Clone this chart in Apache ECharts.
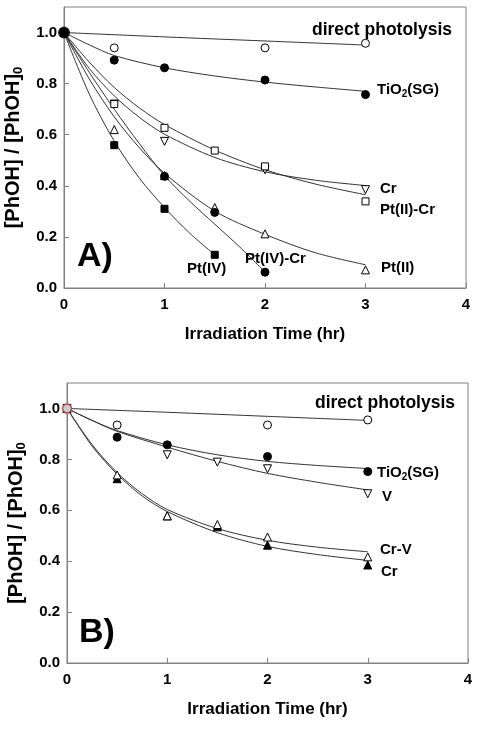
<!DOCTYPE html>
<html><head><meta charset="utf-8">
<script src="https://cdn.jsdelivr.net/npm/echarts@6/dist/echarts.min.js"></script>
<style>html,body{margin:0;padding:0;background:#fff}#c{width:482px;height:749px}</style>
</head><body><div id="c"></div>
<script>
// ---------- DATA (panel A) ----------
const directA_pts = [[0,1],[0.5,0.94],[2,0.94],[3,0.958]];
const directA_fit = [[0,1],[1,0.983],[2,0.967],[3,0.951]];
const tio2A_pts = [[0,1],[0.5,0.892],[1,0.862],[2,0.814],[3,0.757]];
const tio2A_fit = [[0,1],[0.25,0.952],[0.5,0.91],[1,0.862],[1.5,0.83],[2,0.806],[2.5,0.787],[3,0.77]];
const crA_pts = [[0,1],[0.5,0.72],[1,0.574],[2,0.463],[3,0.385]];
const crA_fit = [[0,1],[0.25,0.86],[0.5,0.752],[0.75,0.668],[1,0.602],[1.5,0.511],[2,0.455],[2.5,0.422],[3,0.401]];
const ptiicrA_pts = [[0,1],[0.5,0.72],[1,0.627],[1.5,0.538],[2,0.476],[3,0.339]];
const ptiicrA_fit = [[0,1],[0.25,0.885],[0.5,0.785],[0.75,0.705],[1,0.64],[1.5,0.54],[2,0.463],[2.5,0.407],[3,0.365]];
const ptiiA_pts = [[0,1],[0.5,0.62],[1,0.44],[1.5,0.315],[2,0.212],[3,0.071]];
const ptiiA_fit = [[0,1],[0.25,0.819],[0.5,0.67],[0.75,0.549],[1,0.449],[1.5,0.301],[2,0.21],[2.5,0.138],[3,0.091]];
const ptivcrA_pts = [[0,1],[1,0.437],[1.5,0.296],[2,0.062]];
const ptivcrA_fit = [[0,1],[0.25,0.845],[0.5,0.7],[0.75,0.565],[1,0.44],[1.25,0.34],[1.5,0.25],[1.75,0.16],[2,0.062]];
const ptivA_pts = [[0,1],[0.5,0.559],[1,0.31],[1.5,0.13]];
const ptivA_fit = [[0,1],[0.25,0.76],[0.5,0.575],[0.75,0.43],[1,0.315],[1.25,0.215],[1.5,0.13]];
const originA = [[0,1]];
// ---------- DATA (panel B) ----------
const directB_pts = [[0,1],[0.5,0.935],[2,0.935],[3,0.955]];
const directB_fit = [[0,1],[1,0.985],[2,0.969],[3,0.953]];
const tio2B_pts = [[0,1],[0.5,0.887],[1,0.857],[2,0.811],[3,0.752]];
const tio2B_fit = [[0,1],[0.25,0.953],[0.5,0.913],[1,0.857],[1.5,0.818],[2,0.792],[2.5,0.776],[3,0.764]];
const vB_pts = [[0,1],[1,0.818],[1.5,0.789],[2,0.763],[3,0.665]];
const vB_fit = [[0,1],[0.25,0.953],[0.5,0.91],[1,0.848],[1.5,0.792],[2,0.745],[2.5,0.71],[3,0.68]];
const crvB_pts = [[0,1],[0.5,0.739],[1,0.578],[1.5,0.544],[2,0.495],[3,0.417]];
const crvB_fit = [[0,1],[0.25,0.858],[0.5,0.748],[0.75,0.665],[1,0.603],[1.5,0.528],[2,0.482],[2.5,0.455],[3,0.437]];
const crB_pts = [[0,1],[0.5,0.724],[1,0.578],[1.5,0.535],[2,0.463],[3,0.385]];
const crB_fit = [[0,1],[0.25,0.852],[0.5,0.742],[0.75,0.656],[1,0.595],[1.5,0.512],[2,0.458],[2.5,0.426],[3,0.403]];
const originB = [[0,1]];
// ---------- TICKS ----------
const xTicks = [0,1,2,3,4];
const yTicks = [0,0.2,0.4,0.6,0.8,1.0];

const FF = 'Liberation Sans, Arial, sans-serif';
const chart = echarts.init(document.getElementById('c'), null, {renderer:'canvas'});

function fitSeries(data, g){
  return {type:'line', xAxisIndex:g, yAxisIndex:g, data, smooth:0.3,
    showSymbol:false, symbol:'none', silent:true, z:2,
    lineStyle:{color:'#333', width:1}};
}
function ptSeries(data, g, symbol, filled, rot){
  return {type:'scatter', xAxisIndex:g, yAxisIndex:g, data, symbol, symbolSize: symbol==='rect'?7:8,
    symbolRotate: rot||0, z:3,
    itemStyle:{color: filled?'#000':'#fff', borderColor:'#000', borderWidth:1, opacity:1}};
}
const series = [
  fitSeries(directA_fit,0), fitSeries(tio2A_fit,0), fitSeries(crA_fit,0), fitSeries(ptiicrA_fit,0),
  fitSeries(ptiiA_fit,0), fitSeries(ptivcrA_fit,0), fitSeries(ptivA_fit,0),
  ptSeries(directA_pts,0,'circle',false), ptSeries(crA_pts,0,'triangle',false,180),
  ptSeries(ptiicrA_pts,0,'rect',false), ptSeries(ptiiA_pts,0,'triangle',false),
  ptSeries(ptivA_pts,0,'rect',true), ptSeries(ptivcrA_pts,0,'circle',true), ptSeries(tio2A_pts,0,'circle',true),
  {type:'scatter', xAxisIndex:0, yAxisIndex:0, data:originA, symbol:'circle', symbolSize:11, z:4,
   itemStyle:{color:'#000', borderColor:'#000', borderWidth:1}},
  fitSeries(directB_fit,1), fitSeries(tio2B_fit,1), fitSeries(vB_fit,1), fitSeries(crvB_fit,1), fitSeries(crB_fit,1),
  ptSeries(directB_pts,1,'circle',false), ptSeries(vB_pts,1,'triangle',false,180),
  ptSeries(crB_pts,1,'triangle',true), ptSeries(crvB_pts,1,'triangle',false), ptSeries(tio2B_pts,1,'circle',true),
  {type:'scatter', xAxisIndex:1, yAxisIndex:1, data:originB, symbol:'circle', symbolSize:9, z:4,
   itemStyle:{color:'#fff', borderColor:'#b03a3a', borderWidth:1.5}}
];

function xAxis(g){
  return {gridIndex:g, type:'value', min:xTicks[0], max:xTicks[xTicks.length-1], interval:1,
    name:'Irradiation Time (hr)', nameLocation:'middle', nameGap:38,
    nameTextStyle:{fontFamily:FF, fontWeight:'bold', fontSize:17, color:'#000'},
    axisLine:{show:true, onZero:false, lineStyle:{color:'#808080', width:1}},
    axisTick:{show:true, inside:true, length:5, lineStyle:{color:'#808080'}},
    splitLine:{show:false},
    axisLabel:{fontFamily:FF, fontWeight:'bold', fontSize:15, color:'#000', margin:9}};
}
function yAxis(g){
  return {gridIndex:g, type:'value', min:0, max:1.1, interval:0.2,
    name:'[PhOH] / [PhOH]{s|0}', nameLocation:'middle', nameGap:38,
    nameTextStyle:{fontFamily:FF, fontWeight:'bold', fontSize:20, color:'#000', lineHeight:24,
      rich:{s:{fontFamily:FF, fontWeight:'bold', fontSize:13, verticalAlign:'bottom', lineHeight:13, color:'#000'}}},
    axisLine:{show:true, onZero:false, lineStyle:{color:'#808080', width:1}},
    axisTick:{show:true, inside:true, length:5, lineStyle:{color:'#808080'},
      customValues: yTicks},
    splitLine:{show:false},
    axisLabel:{fontFamily:FF, fontWeight:'bold', fontSize:15, color:'#000', margin:7,
      customValues: yTicks, formatter: v => v.toFixed(1)}};
}

function txt(x, y, text, size, extra){
  return Object.assign({type:'text', x, y, z:10, style:{text, fill:'#000', fontFamily:FF, fontWeight:'bold',
    fontSize:size, verticalAlign:'middle'}}, extra||{});
}
function tio2(x, y){
  return {type:'text', x, y, z:10, style:{text:'{n|TiO}{s|2}{n|(SG)}', fill:'#000', verticalAlign:'middle',
    rich:{n:{fontFamily:FF, fontWeight:'bold', fontSize:15, lineHeight:18, fill:'#000'},
          s:{fontFamily:FF, fontWeight:'bold', fontSize:10, lineHeight:10, verticalAlign:'bottom', fill:'#000'}}}};
}

chart.setOption({
  animation:false,
  backgroundColor:'#fff',
  grid:[
    {left:64, width:402, top:7, height:281, show:true, borderColor:'#808080', borderWidth:1, backgroundColor:'transparent',
     containLabel:false, outerBoundsMode:'none'},
    {left:67, width:401, top:383, height:280, show:true, borderColor:'#808080', borderWidth:1, backgroundColor:'transparent',
     containLabel:false, outerBoundsMode:'none'}
  ],
  xAxis:[xAxis(0), xAxis(1)],
  yAxis:[yAxis(0), yAxis(1)],
  series,
  graphic:[
    txt(312,30,'direct photolysis',17.5), tio2(377,90), txt(380,189,'Cr',15), txt(380,210,'Pt(II)-Cr',15),
    txt(381,268,'Pt(II)',15), txt(245,259,'Pt(IV)-Cr',15), txt(187,269,'Pt(IV)',15), txt(77,257,'A)',34),
    txt(315,403,'direct photolysis',17.5), tio2(377,473), txt(382,497,'V',15), txt(380,550,'Cr-V',15),
    txt(381,572,'Cr',15), txt(79,633,'B)',34)
  ]
});
</script></body></html>
